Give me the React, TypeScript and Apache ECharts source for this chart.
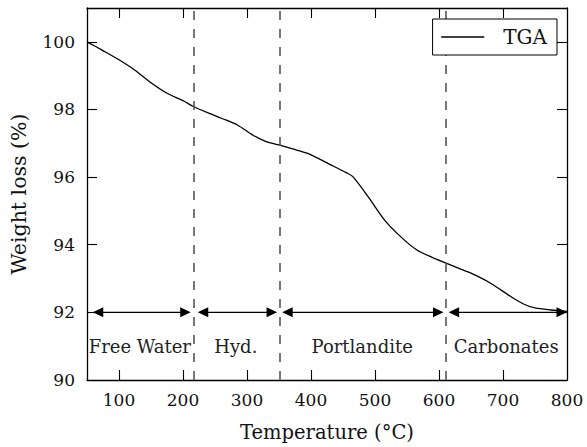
import React, { useEffect, useRef } from "react";
import * as echarts from "echarts";

const temperature = [50, 75, 100, 125, 150, 175, 200, 217, 240, 260, 285, 310, 330, 350, 370, 395, 430, 455, 465, 490, 515, 540, 565, 590, 612, 635, 650, 680, 712, 733, 750, 775, 800];
const weight = [100.0, 99.74, 99.47, 99.16, 98.79, 98.48, 98.26, 98.08, 97.89, 97.74, 97.54, 97.23, 97.05, 96.95, 96.84, 96.7, 96.37, 96.13, 96.02, 95.4, 94.73, 94.24, 93.85, 93.62, 93.45, 93.27, 93.16, 92.87, 92.47, 92.24, 92.13, 92.07, 92.03];

const boundaries = [217, 351, 611];
const arrowSegments = [
  [59, 212],
  [223, 347],
  [355, 607],
  [615, 800],
];
const arrowLevel = 92;
const regionNames = ["Free Water", "Hyd.", "Portlandite", "Carbonates"];
const regionCenters = [132.5, 282.5, 480, 705];
const regionLevel = 91;

const xTickValues = [100, 200, 300, 400, 500, 600, 700];
const xLabelValues = [100, 200, 300, 400, 500, 600, 700, 800];
const yTickValues = [92, 94, 96, 98, 100];
const yLabelValues = [90, 92, 94, 96, 98, 100];

const FONT = "DejaVu Serif";

export default function App() {
  const ref = useRef<HTMLDivElement>(null);
  useEffect(() => {
    if (!ref.current) return;
    const chart = echarts.init(ref.current, null, { renderer: "svg" });
    const axisLine = { show: true, lineStyle: { color: "#000", width: 1.3 } };
    const tick = (vals: number[]) => ({
      show: true,
      inside: true,
      length: 10,
      customValues: vals,
      lineStyle: { color: "#000", width: 1.1 },
    });
    const option: any = {
      animation: false,
      backgroundColor: "#fff",
      textStyle: { fontFamily: FONT },
      grid: { left: 86, top: 8, width: 481, height: 373, containLabel: false },
      legend: {
        data: ["TGA"],
        right: 30,
        top: 19,
        z: 20,
        backgroundColor: "#fff",
        borderColor: "#000",
        borderWidth: 1,
        borderRadius: 0,
        padding: [8, 10, 8, 8],
        itemWidth: 43,
        itemHeight: 14,
        itemStyle: { opacity: 0 },
        lineStyle: { color: "#000", width: 1.3 },
        textStyle: { fontFamily: FONT, fontSize: 20, color: "#111", padding: [0, 0, 0, 14] },
      },
      xAxis: [
        {
          type: "value",
          min: 50,
          max: 800,
          position: "bottom",
          axisLine,
          axisTick: tick(xTickValues),
          splitLine: { show: false },
          axisLabel: {
            customValues: xLabelValues,
            fontFamily: FONT,
            fontSize: 17,
            color: "#111",
            margin: 11,
          },
          name: "Temperature (°C)",
          nameLocation: "middle",
          nameGap: 42,
          nameTextStyle: { fontFamily: FONT, fontSize: 19.5, color: "#111" },
        },
        {
          type: "value",
          min: 50,
          max: 800,
          position: "top",
          axisLine,
          axisTick: tick(xTickValues),
          splitLine: { show: false },
          axisLabel: { show: false },
        },
      ],
      yAxis: [
        {
          type: "value",
          min: 90,
          max: 101,
          position: "left",
          axisLine,
          axisTick: tick(yTickValues),
          splitLine: { show: false },
          axisLabel: {
            customValues: yLabelValues,
            fontFamily: FONT,
            fontSize: 17,
            color: "#111",
            margin: 12,
          },
          name: "Weight loss (%)",
          nameLocation: "middle",
          nameGap: 58,
          nameTextStyle: { fontFamily: FONT, fontSize: 20.5, color: "#111" },
        },
        {
          type: "value",
          min: 90,
          max: 101,
          position: "right",
          axisLine,
          axisTick: tick(yTickValues),
          splitLine: { show: false },
          axisLabel: { show: false },
        },
      ],
      series: [
        {
          name: "TGA",
          type: "line",
          xAxisIndex: 0,
          yAxisIndex: 0,
          data: temperature.map((t, i) => [t, weight[i]]),
          smooth: 0.3,
          symbol: "none",
          showSymbol: false,
          lineStyle: { color: "#000", width: 1.3 },
          itemStyle: { color: "#000" },
          markLine: {
            silent: true,
            symbol: "none",
            label: { show: false },
            lineStyle: { color: "#555", width: 1.6, type: [9, 9] },
            data: boundaries.map((b) => ({ xAxis: b })),
          },
          z: 3,
        },
        {
          name: "arrows",
          type: "custom",
          xAxisIndex: 0,
          yAxisIndex: 0,
          silent: true,
          clip: false,
          encode: { x: [0, 1], y: 2 },
          data: arrowSegments.map((s) => [s[0], s[1], arrowLevel]),
          renderItem: (params: any, api: any) => {
            const y = api.value(2);
            const p1 = api.coord([api.value(0), y]);
            const p2 = api.coord([api.value(1), y]);
            const L = 10.5;
            const H = 5;
            return {
              type: "group",
              children: [
                {
                  type: "line",
                  shape: { x1: p1[0] + L - 1, y1: p1[1], x2: p2[0] - L + 1, y2: p2[1] },
                  style: { stroke: "#000", lineWidth: 1.4 },
                },
                {
                  type: "polygon",
                  shape: { points: [[p1[0], p1[1]], [p1[0] + L, p1[1] - H], [p1[0] + L, p1[1] + H]] },
                  style: { fill: "#000" },
                },
                {
                  type: "polygon",
                  shape: { points: [[p2[0], p2[1]], [p2[0] - L, p2[1] - H], [p2[0] - L, p2[1] + H]] },
                  style: { fill: "#000" },
                },
              ],
            };
          },
        },
        {
          name: "regions",
          type: "custom",
          xAxisIndex: 0,
          yAxisIndex: 0,
          silent: true,
          clip: false,
          encode: { x: 0, y: 1 },
          data: regionCenters.map((c) => [c, regionLevel]),
          renderItem: (params: any, api: any) => {
            const p = api.coord([api.value(0), api.value(1)]);
            return {
              type: "text",
              x: p[0],
              y: p[1],
              style: {
                text: regionNames[params.dataIndex],
                align: "center",
                verticalAlign: "middle",
                fontFamily: FONT,
                fontSize: 18,
                fill: "#222",
              },
            };
          },
        },
      ],
    };
    chart.setOption(option);
    return () => chart.dispose();
  }, []);
  return (
    <div
      ref={ref}
      style={{ position: "fixed", left: 0, top: 0, width: 587, height: 447, background: "#fff" }}
    />
  );
}
